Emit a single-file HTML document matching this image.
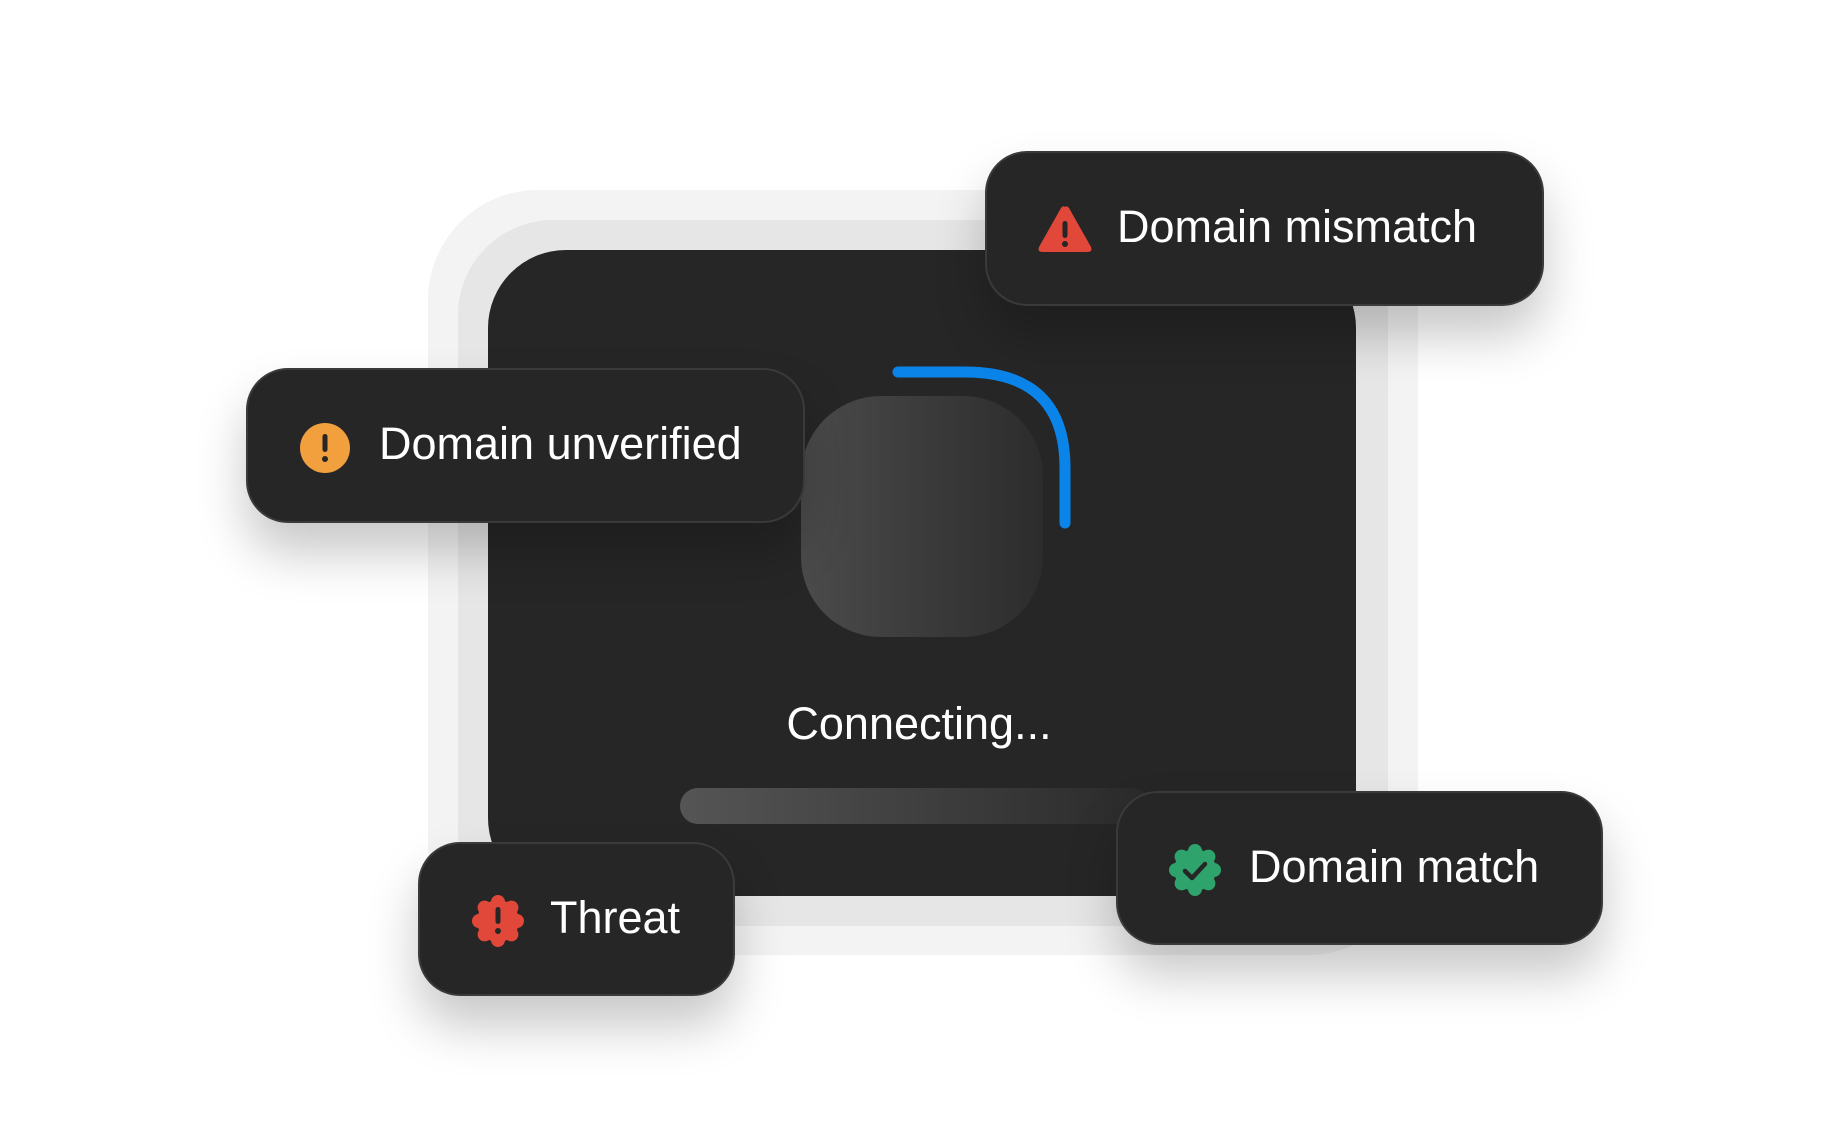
<!DOCTYPE html>
<html><head><meta charset="utf-8"><style>
body{margin:0;width:1848px;height:1146px;background:#fff;position:relative;overflow:hidden;font-family:"Liberation Sans",sans-serif}
.a{position:absolute}
.pill{position:absolute;background:#262626;border:2px solid #3a3a3a;border-radius:42px;box-sizing:border-box;box-shadow:0 30px 50px rgba(0,0,0,0.22);color:#fff;font-size:45px;display:flex;align-items:center;letter-spacing:0}
.pill svg{position:absolute}
.pill span{position:absolute;white-space:nowrap}
</style></head><body>
<div class="a" style="left:428px;top:190px;width:990px;height:765px;background:#f3f3f3;border-radius:110px"></div>
<div class="a" style="left:458px;top:220px;width:930px;height:706px;background:#e6e6e6;border-radius:95px"></div>
<div class="a" style="left:488px;top:250px;width:868px;height:646px;background:#262626;border-radius:78px"></div>
<div class="a" style="left:801px;top:396px;width:242px;height:241px;border-radius:80px;background:linear-gradient(90deg,#4b4b4b,#2c2c2c)"></div>
<svg class="a" style="left:0;top:0" width="1848" height="1146"><path d="M898 372 L965 372 Q1065 372 1065 468 L1065 523" fill="none" stroke="#0b84ea" stroke-width="11" stroke-linecap="round"/></svg>
<div class="a" style="left:694px;top:698px;width:450px;text-align:center;color:#fff;font-size:45px">Connecting...</div>
<div class="a" style="left:680px;top:788px;width:470px;height:36px;border-radius:18px;background:linear-gradient(90deg,#555,#2a2a2a)"></div>

<div class="pill" style="left:985px;top:151px;width:559px;height:155px">
<svg style="left:50px;top:51px" width="56" height="50" viewBox="0 0 56 50"><path d="M28 3 Q30 1 32 4 L54 43 Q56 48 50 48 L6 48 Q0 48 2 43 L24 4 Q26 1 28 3Z" fill="#e2483a"/><rect x="25.5" y="17" width="5" height="17" rx="2.5" fill="#262626"/><circle cx="28" cy="40" r="3" fill="#262626"/></svg>
<span style="left:130px;top:48px">Domain mismatch</span></div>

<div class="pill" style="left:246px;top:368px;width:559px;height:155px">
<svg style="left:52px;top:53px" width="50" height="50"><circle cx="25" cy="25" r="25" fill="#f29f3d"/><rect x="22.5" y="11" width="5" height="18" rx="2.5" fill="#262626"/><circle cx="25" cy="36" r="3" fill="#262626"/></svg>
<span style="left:131px;top:48px">Domain unverified</span></div>

<div class="pill" style="left:418px;top:842px;width:317px;height:154px">
<svg style="left:51px;top:50px" width="54" height="54" viewBox="-27 -27 54 54"><g fill="#e2483a"><circle r="21"/><circle cx="0" cy="-19" r="7"/><circle cx="13.4" cy="-13.4" r="7"/><circle cx="19" cy="0" r="7"/><circle cx="13.4" cy="13.4" r="7"/><circle cx="0" cy="19" r="7"/><circle cx="-13.4" cy="13.4" r="7"/><circle cx="-19" cy="0" r="7"/><circle cx="-13.4" cy="-13.4" r="7"/></g><rect x="-2.5" y="-14" width="5" height="17" rx="2.5" fill="#262626"/><circle cx="0" cy="10" r="3" fill="#262626"/></svg>
<span style="left:130px;top:48px">Threat</span></div>

<div class="pill" style="left:1116px;top:791px;width:487px;height:154px">
<svg style="left:50px;top:50px" width="54" height="54" viewBox="-27 -27 54 54"><g fill="#2ea36b"><circle r="21"/><circle cx="0" cy="-19" r="7"/><circle cx="13.4" cy="-13.4" r="7"/><circle cx="19" cy="0" r="7"/><circle cx="13.4" cy="13.4" r="7"/><circle cx="0" cy="19" r="7"/><circle cx="-13.4" cy="13.4" r="7"/><circle cx="-19" cy="0" r="7"/><circle cx="-13.4" cy="-13.4" r="7"/></g><path d="M-10 1 L-3 8 L10 -6" fill="none" stroke="#262626" stroke-width="4.5" stroke-linecap="round" stroke-linejoin="round"/></svg>
<span style="left:131px;top:48px">Domain match</span></div>
</body></html>
